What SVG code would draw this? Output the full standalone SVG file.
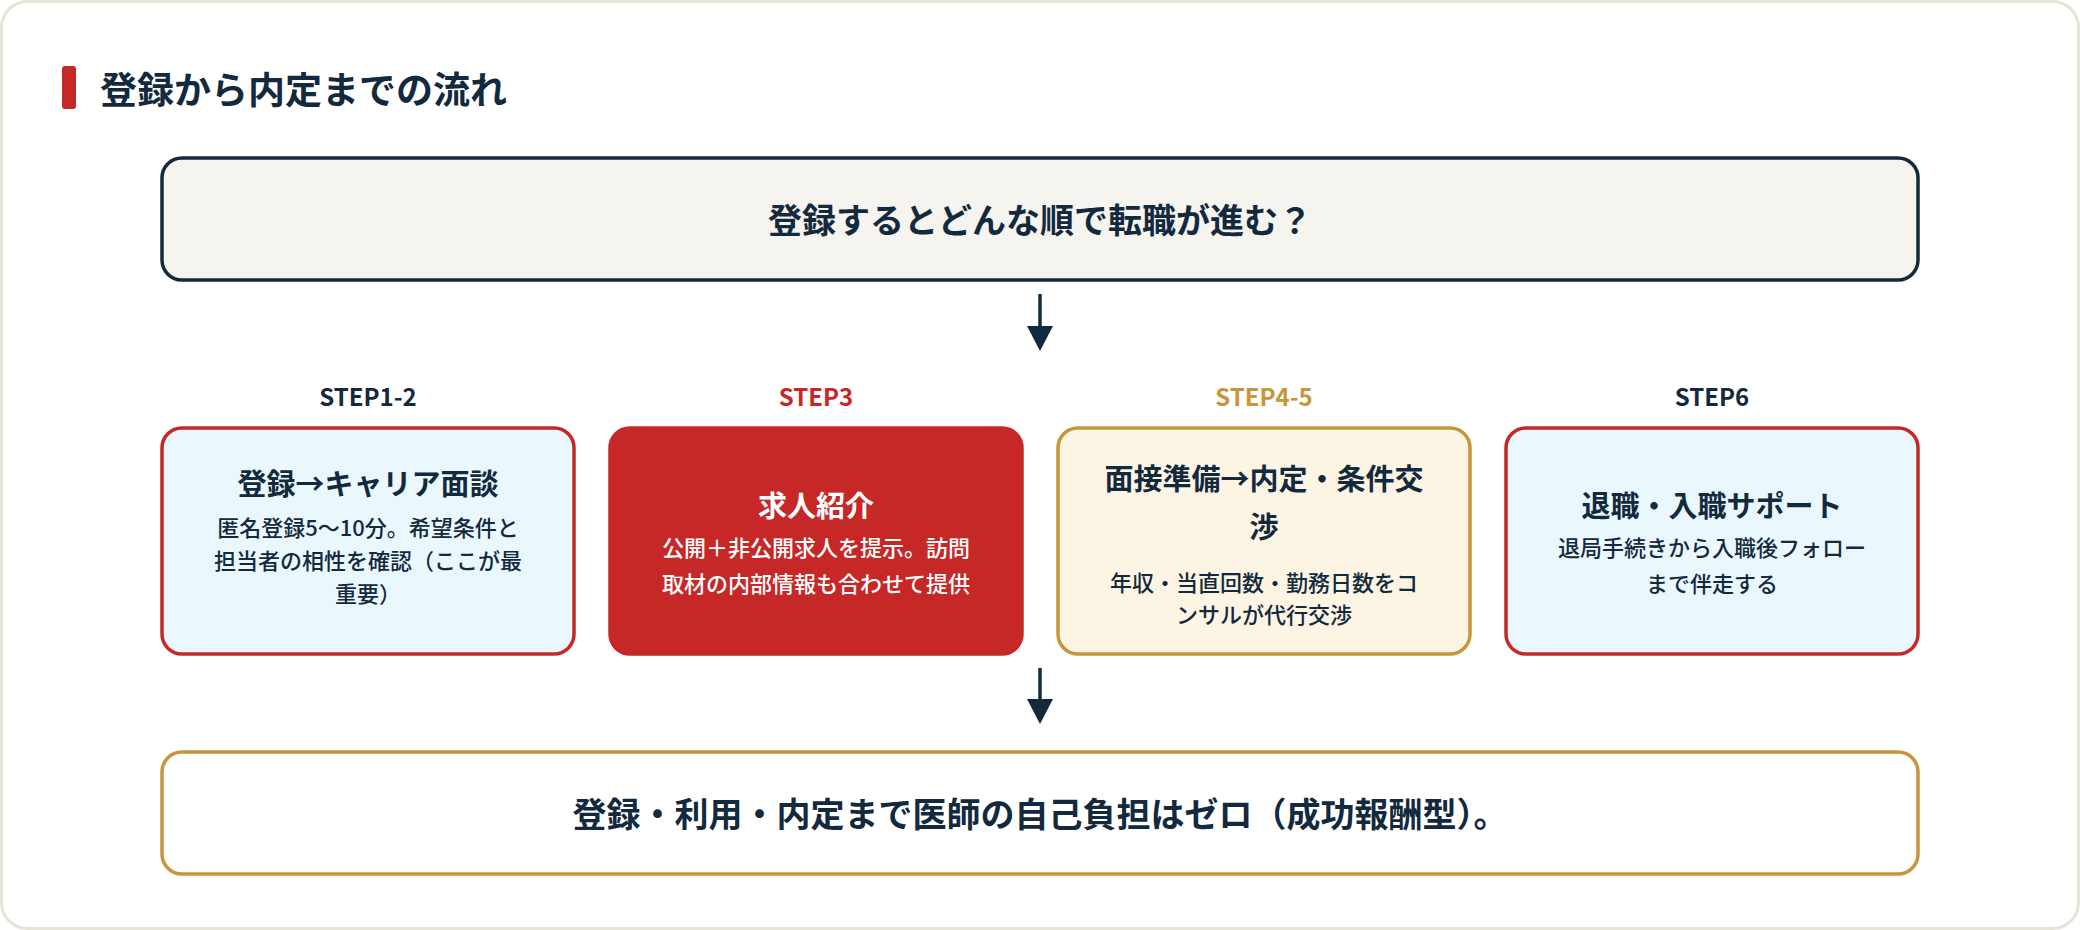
<svg xmlns="http://www.w3.org/2000/svg" width="2080" height="930" viewBox="0 0 2080 930">
<style>
text{font-family:"Noto Sans CJK JP","Noto Sans",sans-serif;font-weight:700;fill:#13293d;text-anchor:middle}
.box{stroke-width:3.5}
.h{font-size:29px}
.d{font-size:22px;font-weight:500}
.s{font-size:24px}
.w{fill:#ffffff}
</style>
<defs>
<marker id="ah" markerWidth="10" markerHeight="10" refX="5" refY="5" orient="auto" markerUnits="userSpaceOnUse" viewBox="0 0 10 10"><path d="M0,0 L10,5 L0,10 Z" fill="#13293d"/></marker>
</defs>
<rect x="1.5" y="1.5" width="2077" height="927" rx="26" fill="#ffffff" stroke="#e6e4d6" stroke-width="3"/>
<g id="title">
<rect x="62" y="66" width="14" height="43" rx="3" fill="#c62828"/>
<text x="100" y="104" style="font-size:37px;text-anchor:start">登録から内定までの流れ</text>
</g>
<g id="top">
<rect class="box" x="162" y="158" width="1756" height="122" rx="20" fill="#f5f4ef" stroke="#13293d"/>
<text x="1040" y="233" style="font-size:34px">登録するとどんな順で転職が進む？</text>
</g>
<g id="connectors">
<line x1="1040" y1="294" x2="1040" y2="332" stroke="#13293d" stroke-width="3.5"/>
<path d="M1027,326 L1053,326 L1040,351 Z" fill="#13293d"/>
<line x1="1040" y1="668" x2="1040" y2="705" stroke="#13293d" stroke-width="3.5"/>
<path d="M1027,699 L1053,699 L1040,724 Z" fill="#13293d"/>
</g>
<g id="step1">
<text class="s" x="368" y="406">STEP1-2</text>
<rect class="box" x="162" y="428" width="412" height="226" rx="20" fill="#eaf8fd" stroke="#c62828"/>
<text class="h" x="368" y="495">登録→キャリア面談</text>
<text class="d" x="368" y="536">匿名登録5〜10分。希望条件と</text>
<text class="d" x="368" y="569">担当者の相性を確認（ここが最</text>
<text class="d" x="368" y="602">重要）</text>
</g>
<g id="step3">
<text class="s" x="816" y="406" style="fill:#c62828">STEP3</text>
<rect class="box" x="610" y="428" width="412" height="226" rx="20" fill="#c62828" stroke="#c62828"/>
<text class="h w" x="816" y="517">求人紹介</text>
<text class="d w" x="816" y="556">公開＋非公開求人を提示。訪問</text>
<text class="d w" x="816" y="592">取材の内部情報も合わせて提供</text>
</g>
<g id="step4">
<text class="s" x="1264" y="406" style="fill:#c8963a">STEP4-5</text>
<rect class="box" x="1058" y="428" width="412" height="226" rx="20" fill="#fdf5e4" stroke="#c8963a"/>
<text class="h" x="1264" y="490">面接準備→内定・条件交</text>
<text class="h" x="1264" y="538">渉</text>
<text class="d" x="1264" y="591">年収・当直回数・勤務日数をコ</text>
<text class="d" x="1264" y="623">ンサルが代行交渉</text>
</g>
<g id="step6">
<text class="s" x="1712" y="406">STEP6</text>
<rect class="box" x="1506" y="428" width="412" height="226" rx="20" fill="#eaf8fd" stroke="#c62828"/>
<text class="h" x="1712" y="517">退職・入職サポート</text>
<text class="d" x="1712" y="556">退局手続きから入職後フォロー</text>
<text class="d" x="1712" y="592">まで伴走する</text>
</g>
<g id="bottom">
<rect class="box" x="162" y="752" width="1756" height="122" rx="20" fill="#ffffff" stroke="#c8963a"/>
<text x="1040" y="827" style="font-size:34px">登録・利用・内定まで医師の自己負担はゼロ（成功報酬型）。</text>
</g>
</svg>
